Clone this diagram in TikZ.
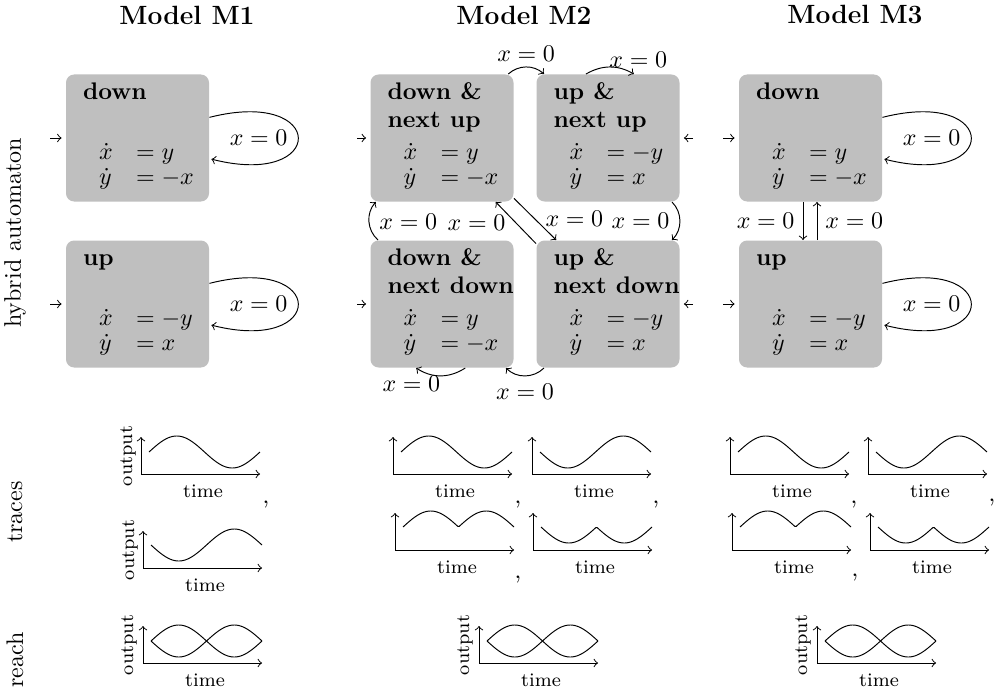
\documentclass[tikz,border=0pt]{standalone}
\usetikzlibrary{calc}
\newdimen\pu
\pu=0.4167pt
% flow equations of a location, as one aligned block
\newcommand\flow[3]{%
  \node[eq] (#1-eq) at ($(#1.north west)+(33,-85)$)
    {\renewcommand{\arraystretch}{0.9}%
     $\begin{array}[t]{@{}l@{\hspace{9.8pt}}l@{}}\dot x & = #2\\ \dot y & = #3\end{array}$};
}
% location with a one-line title: node name, title, right-hand sides of the flow
\newcommand\stateone[4]{%
  \node[title] (#1-l1) at ($(#1.north west)+(17,-25)$) {#2};
  \flow{#1}{#3}{#4}
}
% location with a two-line title
\newcommand\statetwo[5]{%
  \node[title] (#1-l1) at ($(#1.north west)+(17,-25)$) {#2};
  \node[title] (#1-l2) at ($(#1.north west)+(17,-53)$) {#3};
  \flow{#1}{#4}{#5}
}
% axes of a small plot: name, x of the vertical axis, y of the origin
\newcommand\plotaxes[3]{%
  \coordinate (#1) at (#2,-#3);
  \coordinate (#1-y) at (#2,-#3+37);
  \coordinate (#1-x) at (#2+119,-#3);
  \draw[->] (#1) -- (#1-y);
  \draw[->] (#1) -- (#1-x);
  \node[small] (#1-t) at ($(#1)+(62,-17)$) {time};
}
\newcommand\outputlabel[2]{%
  \node[small, rotate=90] (#1-o) at ($(#1)+(#2,18)$) {output};
}
% one curve of a plot; \t runs over one period (111 units)
\newcommand\wave[2]{%
  \draw[shift={(#1)}, domain=0:111, samples=90, smooth, variable=\t] plot ({8+\t},{#2});
}
\begin{document}
\begin{tikzpicture}[x=1\pu, y=1\pu,
  state/.style={rectangle, rounded corners=3.4pt, fill=black!25,
    minimum width=143\pu, minimum height=127\pu, inner sep=0pt},
  title/.style={font=\bfseries, anchor=base west, inner sep=0pt},
  eq/.style={anchor=base west, inner sep=0pt},
  lbl/.style={inner sep=0pt},
  head/.style={font=\fontsize{11}{13}\selectfont\bfseries},
  rowlbl/.style={rotate=90},
  small/.style={font=\footnotesize, inner sep=0pt},
  startarr/.style={->, shorten >=4\pu},
]
\useasboundingbox (0,0) rectangle (997,-694);

% column headers and row labels
\node[head] (h1) at (187,-15) {Model M1};
\node[head] (h2) at (524,-15) {Model M2};
\node[head] (h3) at (855,-15) {Model M3};
\node[rowlbl] (r-ha) at (15,-233) {hybrid automaton};
\node[rowlbl] (r-tr) at (15,-512) {traces};
\node[rowlbl] (r-re) at (15,-660) {reach};

% ---------------- Model M1 ----------------
\node[state] (m1d) at (137.5,-138) {};
\node[state] (m1u) at (137.5,-304) {};
\stateone{m1d}{down}{y}{-x}
\stateone{m1u}{up}{-y}{x}
\coordinate (m1d-in) at (50,-138);
\coordinate (m1u-in) at (50,-304);
\draw[startarr] (m1d-in) -- (m1d.west);
\draw[startarr] (m1u-in) -- (m1u.west);
\draw[->, shorten >=2\pu] (m1d.16) .. controls +(118,30) and +(118,-30) .. (m1d.-16)
  node[lbl, pos=0.5, left=10\pu] {$x=0$};
\draw[->, shorten >=2\pu] (m1u.16) .. controls +(118,30) and +(118,-30) .. (m1u.-16)
  node[lbl, pos=0.5, left=10\pu] {$x=0$};

% ---------------- Model M2 ----------------
\node[state] (m2a) at (442,-138) {};
\node[state] (m2b) at (608,-138) {};
\node[state] (m2c) at (442,-304) {};
\node[state] (m2d) at (608,-304) {};
\statetwo{m2a}{down \&}{next up}{y}{-x}
\statetwo{m2b}{up \&}{next up}{-y}{x}
\statetwo{m2c}{down \&}{next down}{y}{-x}
\statetwo{m2d}{up \&}{next down}{-y}{x}
\coordinate (m2a-in) at (357,-138);
\coordinate (m2c-in) at (357,-304);
\coordinate (m2b-in) at (693,-138);
\coordinate (m2d-in) at (693,-304);
\draw[startarr] (m2a-in) -- (m2a.west);
\draw[startarr] (m2c-in) -- (m2c.west);
\draw[startarr] (m2b-in) -- (m2b.east);
\draw[startarr] (m2d-in) -- (m2d.east);

\draw[->] (m2a.44) to[bend left=42]
  node[lbl, pos=0.5, anchor=base, yshift=6\pu] {$x=0$} (m2b.135);
\draw[->] (m2b.109) to[bend left=30]
  node[lbl, pos=0.5, anchor=base west, xshift=-1\pu] {$x=0$} (m2b.68);
\draw[->] (m2c.135) to[bend left=45]
  node[lbl, pos=0.5, right=10\pu] {$x=0$} (m2a.224);
\draw[->] (m2d.140) --
  node[lbl, pos=0.5, left=10\pu] {$x=0$} (m2a.310);
\draw[->] (m2a.320) --
  node[lbl, pos=0.5, right=10\pu] {$x=0$} (m2d.129);
\draw[->] (m2b.315) to[bend left=45]
  node[lbl, pos=0.5, left=10\pu] {$x=0$} (m2d.45);
\draw[->] (m2c.290) to[bend left=33]
  node[lbl, pos=0.5, anchor=north east] {$x=0$} (m2c.248);
\draw[->] (m2d.225) to[bend left=45]
  node[lbl, pos=0.5, below=8\pu] {$x=0$} (m2c.315);

% ---------------- Model M3 ----------------
\node[state] (m3d) at (810.5,-138) {};
\node[state] (m3u) at (810.5,-304) {};
\stateone{m3d}{down}{y}{-x}
\stateone{m3u}{up}{-y}{x}
\coordinate (m3d-in) at (723,-138);
\coordinate (m3u-in) at (723,-304);
\draw[startarr] (m3d-in) -- (m3d.west);
\draw[startarr] (m3u-in) -- (m3u.west);
\draw[->, shorten >=2\pu] (m3d.16) .. controls +(118,30) and +(118,-30) .. (m3d.-16)
  node[lbl, pos=0.5, left=10\pu] {$x=0$};
\draw[->, shorten >=2\pu] (m3u.16) .. controls +(118,30) and +(118,-30) .. (m3u.-16)
  node[lbl, pos=0.5, left=10\pu] {$x=0$};
\draw[->] ([xshift=-7.5\pu]m3d.south) --
  node[pos=0.5, left] {$x=0$} ([xshift=-7.5\pu]m3u.north);
\draw[->] ([xshift=6.5\pu]m3u.north) --
  node[pos=0.5, right] {$x=0$} ([xshift=6.5\pu]m3d.south);

% ---------------- traces ----------------
\plotaxes{p11}{141}{474}
\outputlabel{p11}{-13}
\wave{p11}{22+16*sin(\t/111*360)}
\plotaxes{p12}{143}{568}
\outputlabel{p12}{-13}
\wave{p12}{23-16*sin(\t/111*360)}
\node (c11) at (266,-505) {,};

\plotaxes{p21}{393}{474}
\wave{p21}{22+16*sin(\t/111*360)}
\plotaxes{p22}{532}{474}
\wave{p22}{22-16*sin(\t/111*360)}
\plotaxes{p23}{395}{550}
\wave{p23}{23+16*abs(sin(\t/111*360))}
\plotaxes{p24}{533}{550}
\wave{p24}{23-16*abs(sin(\t/111*360))}
\node (c21) at (518,-505) {,};
\node (c22) at (656,-505) {,};
\node (c23) at (518,-580) {,};

\plotaxes{p31}{730}{474}
\wave{p31}{22+16*sin(\t/111*360)}
\plotaxes{p32}{868}{474}
\wave{p32}{22-16*sin(\t/111*360)}
\plotaxes{p33}{732}{550}
\wave{p33}{23+16*abs(sin(\t/111*360))}
\plotaxes{p34}{870}{550}
\wave{p34}{23-16*abs(sin(\t/111*360))}
\node (c31) at (854,-505) {,};
\node (c32) at (992,-503) {,};
\node (c33) at (855,-578) {,};

% ---------------- reach sets ----------------
\plotaxes{q1}{143}{663}
\outputlabel{q1}{-14}
\wave{q1}{22+16*sin(\t/111*360)}
\wave{q1}{22-16*sin(\t/111*360)}
\plotaxes{q2}{479}{663}
\outputlabel{q2}{-14}
\wave{q2}{22+16*sin(\t/111*360)}
\wave{q2}{22-16*sin(\t/111*360)}
\plotaxes{q3}{817}{663}
\outputlabel{q3}{-14}
\wave{q3}{22+16*sin(\t/111*360)}
\wave{q3}{22-16*sin(\t/111*360)}
\end{tikzpicture}
\end{document}
